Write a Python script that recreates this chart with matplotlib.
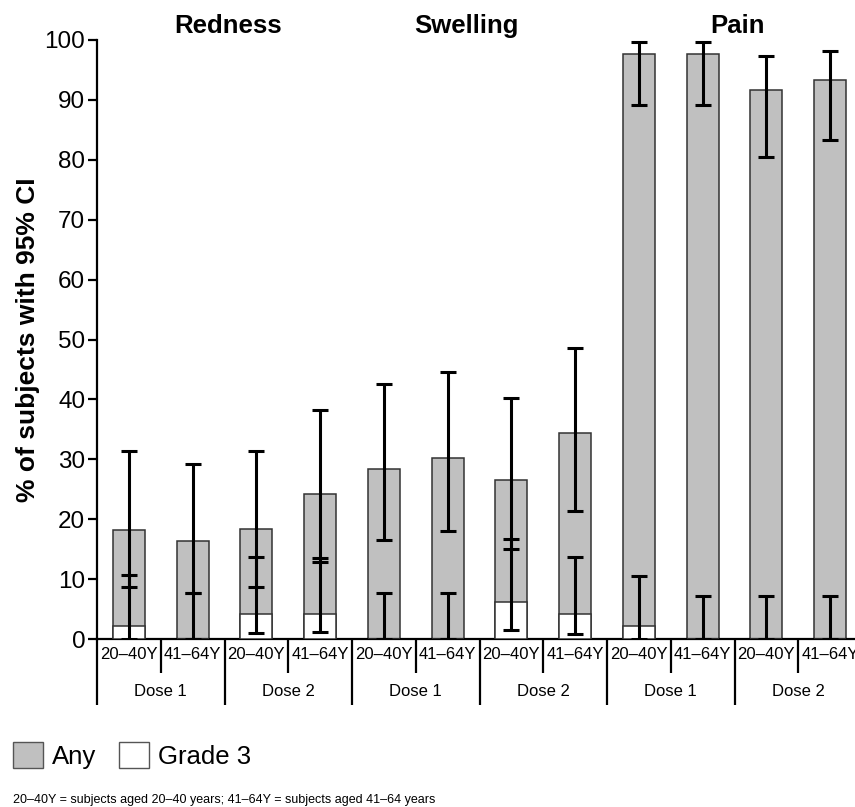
import numpy as np
import matplotlib.pyplot as plt
from matplotlib.patches import Patch

plt.rcParams["font.family"] = ["Liberation Sans", "DejaVu Sans"]

# groups, in drawing order: symptom > dose > age group
symptoms = ["Redness", "Swelling", "Pain"]
doses = ["Dose 1", "Dose 2"]
age_groups = ["20–40Y", "41–64Y"]

# % of subjects reporting the symptom (any intensity) with 95% CI
any_pct = [18.2, 16.4, 18.4, 24.2, 28.4, 30.3, 26.5, 34.4, 97.6, 97.6, 91.7, 93.4]
any_lo = [8.7, 7.6, 8.7, 12.9, 16.5, 18.1, 15.1, 21.3, 89.1, 89.1, 80.4, 83.3]
any_hi = [31.4, 29.2, 31.4, 38.2, 42.5, 44.5, 40.2, 48.6, 99.6, 99.6, 97.3, 98.2]

# % of subjects with grade 3 symptom with 95% CI
g3_pct = [2.2, 0.0, 4.1, 4.1, 0.0, 0.0, 6.1, 4.2, 2.2, 0.0, 0.0, 0.0]
g3_lo = [0.0, 0.0, 1.0, 1.1, 0.0, 0.0, 1.5, 0.8, 0.0, 0.0, 0.0, 0.0]
g3_hi = [10.7, 7.6, 13.7, 13.6, 7.6, 7.6, 16.7, 13.7, 10.6, 7.1, 7.2, 7.1]

footnote = "20–40Y = subjects aged 20–40 years; 41–64Y = subjects aged 41–64 years"

any_color = "#c0c0c0"
edge_color = "#333333"

any_pct = np.array(any_pct)
g3_pct = np.array(g3_pct)
x = np.arange(len(any_pct))

fig = plt.figure(figsize=(8.55, 8.07), dpi=100)
# axes runs slightly past the right edge of the figure, like the original
ax = fig.add_axes([97 / 855, 168 / 807, 765 / 855, 599 / 807])

ax.bar(x, any_pct, width=0.5, color=any_color, edgecolor=edge_color,
       linewidth=1.1, zorder=2)
ax.bar(x, g3_pct, width=0.5, color="white", edgecolor=edge_color,
       linewidth=1.1, zorder=3)

err_kw = dict(fmt="none", ecolor="black", elinewidth=2.2, capsize=6,
              capthick=2.2, zorder=4)
ax.errorbar(x, any_pct, yerr=[any_pct - np.array(any_lo), np.array(any_hi) - any_pct], **err_kw)
ax.errorbar(x, g3_pct, yerr=[g3_pct - np.array(g3_lo), np.array(g3_hi) - g3_pct], **err_kw)

ax.set_xlim(-0.5, len(x) - 0.5)
ax.set_ylim(0, 100)
ax.set_yticks(np.arange(0, 101, 10))
ax.tick_params(axis="y", labelsize=17.5, length=6.5, width=1.6, pad=2)
ax.set_xticks([])
for s in ["top", "right"]:
    ax.spines[s].set_visible(False)
ax.spines["left"].set_linewidth(1.6)
ax.spines["bottom"].set_linewidth(1.6)

ax.set_ylabel("% of subjects with 95% CI", fontsize=19, fontweight="bold",
              labelpad=3)

# category axis drawn below the plot: age labels, dose labels, dividers
trans = ax.get_xaxis_transform()
for i, xi in enumerate(x):
    ax.text(xi, -0.026, age_groups[i % 2], transform=trans, ha="center",
            va="center", fontsize=12)
n_dose = len(x) // 2
for d in range(n_dose):
    ax.text(2 * d + 0.5, -0.088, doses[d % 2], transform=trans, ha="center",
            va="center", fontsize=12)
for b in range(len(x)):
    y_end = -0.110 if b % 2 == 0 else -0.056
    ax.plot([b - 0.5, b - 0.5], [0, y_end], transform=trans, color="black",
            lw=1.6, clip_on=False, solid_capstyle="butt")

title_shift = [0.06, -0.2, 0.05]
for k, name in enumerate(symptoms):
    ax.text(4 * k + 1.5 + title_shift[k], 1.0117, name, transform=trans,
            ha="center", va="baseline", fontsize=18.5, fontweight="bold")

handles = [Patch(facecolor=any_color, edgecolor="#555555", label="Any"),
           Patch(facecolor="white", edgecolor="#555555", label="Grade 3")]
fig.legend(handles=handles, loc="lower left", bbox_to_anchor=(13 / 855, 38 / 807),
           ncol=2, frameon=False, fontsize=18.5, handlelength=1.17,
           handleheight=1.17, handletextpad=0.35, columnspacing=0.9,
           borderpad=0, borderaxespad=0)

fig.text(13 / 855, 7 / 807, footnote, fontsize=9, va="center", ha="left")

fig.savefig("out.png", dpi=100)
